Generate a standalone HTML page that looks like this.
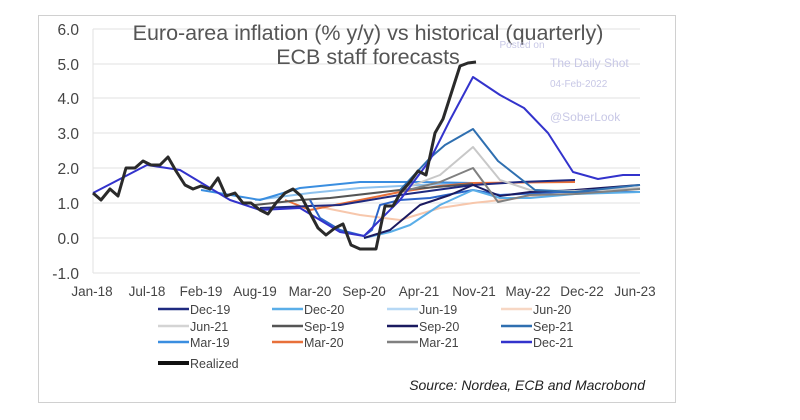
<!DOCTYPE html>
<html><head><meta charset="utf-8"><style>
body{margin:0;background:#fff;width:800px;height:415px;overflow:hidden;font-family:"Liberation Sans",Arial,sans-serif}
</style></head><body>
<svg width="800" height="415" viewBox="0 0 800 415" xmlns="http://www.w3.org/2000/svg" font-family="Liberation Sans, Arial, sans-serif">
<rect x="38.5" y="15.5" width="637" height="387" fill="#fff" stroke="#d0d0d0"/>
<g stroke="#e2e2e2" stroke-width="1">
<line x1="93" x2="640" y1="29" y2="29"/><line x1="93" x2="640" y1="64" y2="64"/><line x1="93" x2="640" y1="98" y2="98"/><line x1="93" x2="640" y1="133" y2="133"/><line x1="93" x2="640" y1="168" y2="168"/><line x1="93" x2="640" y1="203" y2="203"/><line x1="93" x2="640" y1="238" y2="238"/><line x1="93" x2="640" y1="273" y2="273"/>
<line x1="93" x2="93" y1="29" y2="273"/>
</g>
<g font-size="15.5" fill="#444" text-anchor="end">
<text x="79" y="35">6.0</text><text x="79" y="70">5.0</text><text x="79" y="104">4.0</text><text x="79" y="139">3.0</text><text x="79" y="174">2.0</text><text x="79" y="209">1.0</text><text x="79" y="244">0.0</text><text x="79" y="279">-1.0</text>
</g>
<g font-size="13.5" fill="#444" text-anchor="middle">
<text x="92" y="296">Jan-18</text><text x="147" y="296">Jul-18</text><text x="201" y="296">Feb-19</text><text x="255" y="296">Aug-19</text><text x="310" y="296">Mar-20</text><text x="364" y="296">Sep-20</text><text x="419" y="296">Apr-21</text><text x="474" y="296">Nov-21</text><text x="528" y="296">May-22</text><text x="582" y="296">Dec-22</text><text x="635" y="296">Jun-23</text>
</g>
<g font-size="21.5" fill="#555" text-anchor="middle">
<text x="368" y="40">Euro-area inflation (% y/y) vs historical (quarterly)</text>
<text x="368" y="64">ECB staff forecasts</text>
</g>
<g fill="#c8c8e6" font-size="10">
<text x="522" y="48" text-anchor="middle">Posted on</text>
<text x="550" y="67" font-size="12">The Daily Shot</text>
<text x="550" y="87" font-size="10">04-Feb-2022</text>
<text x="550" y="121" font-size="12">@SoberLook</text>
</g>
<g fill="none" stroke-linejoin="round" stroke-width="2">
<polyline stroke="#8ec2ee" points="255,200 310,193 360,188 420,185 473,183"/>
<polyline stroke="#3a8ee0" points="201,190 260,200 300,188 360,182 420,182 473,183"/>
<polyline stroke="#f7c7ac" points="310,205 360,215 400,220 440,208 473,203 520,198 560,195"/>
<polyline stroke="#e8703a" points="285,200 310,210 360,200 400,192 440,186 473,183 575,182"/>
<polyline stroke="#555" points="255,205 300,200 330,198 400,190 473,184"/>
<polyline stroke="#1f2a80" points="260,208 310,206 340,205 400,195 473,185 520,182 575,180"/>
<polyline stroke="#2c64c8" points="310,200 320,218 340,230 364,236 372,230 380,205 400,200 430,198 473,190 500,195 560,192 640,192"/>
<polyline stroke="#5aaee8" points="364,238 390,232 410,225 440,205 473,190 500,198 530,198 575,194 640,192"/>
<polyline stroke="#1a1a60" points="364,238 390,230 420,205 450,195 473,185 500,196 530,192 575,190 640,185"/>
<polyline stroke="#c8c8c8" points="400,190 440,175 473,147 500,180 530,190 575,191 640,188"/>
<polyline stroke="#808080" points="400,192 440,182 473,168 498,202 530,195 575,194 640,189"/>
<polyline stroke="#2f6fb0" points="400,190 430,158 445,145 473,129 498,161 535,190 575,192 640,185"/>
<polyline stroke="#3333cc" points="93,193 147,165 180,170 230,200 260,210 300,208 320,220 340,232 364,236 380,220 400,200 430,160 450,120 473,77 500,95 524,108 548,133 573,172 598,179 623,175 640,175"/>
<polyline stroke="#2a2a2a" stroke-width="3" points="93,193 101,200 110,189 118,196 126,168 135,168 143,161 151,165 160,165 168,157 176,171 185,185 193,189 201,186 210,189 218,178 226,196 235,193 243,203 251,203 260,210 268,214 276,203 285,193 293,189 301,196 310,213 318,228 326,235 335,228 343,224 351,245 360,249 368,249 376,249 385,206 393,206 401,192 410,182 418,171 426,175 435,133 443,119 451,94 460,66 468,63 476,62"/>
</g>
<g font-size="12.5" fill="#444">
<g stroke-width="2.5">
<line x1="158" x2="189" y1="309" y2="309" stroke="#1f2a80"/>
<line x1="272" x2="303" y1="309" y2="309" stroke="#5aaee8"/>
<line x1="387" x2="418" y1="309" y2="309" stroke="#b6d8f5"/>
<line x1="501" x2="532" y1="309" y2="309" stroke="#f7d7c4"/>
<line x1="158" x2="189" y1="326" y2="326" stroke="#d4d4d4"/>
<line x1="272" x2="303" y1="326" y2="326" stroke="#555"/>
<line x1="387" x2="418" y1="326" y2="326" stroke="#1a1a60"/>
<line x1="501" x2="532" y1="326" y2="326" stroke="#2f6fb0"/>
<line x1="158" x2="189" y1="342" y2="342" stroke="#3a8ee0"/>
<line x1="272" x2="303" y1="342" y2="342" stroke="#e8703a"/>
<line x1="387" x2="418" y1="342" y2="342" stroke="#808080"/>
<line x1="501" x2="532" y1="342" y2="342" stroke="#3333cc"/>
<line x1="158" x2="189" y1="363" y2="363" stroke="#111" stroke-width="4"/>
</g>
<text x="190" y="314">Dec-19</text><text x="304" y="314">Dec-20</text><text x="419" y="314">Jun-19</text><text x="533" y="314">Jun-20</text>
<text x="190" y="331">Jun-21</text><text x="304" y="331">Sep-19</text><text x="419" y="331">Sep-20</text><text x="533" y="331">Sep-21</text>
<text x="190" y="347">Mar-19</text><text x="304" y="347">Mar-20</text><text x="419" y="347">Mar-21</text><text x="533" y="347">Dec-21</text>
<text x="190" y="368">Realized</text>
</g>
<text x="645" y="390" text-anchor="end" font-size="14" font-style="italic" fill="#222">Source: Nordea, ECB and Macrobond</text>
</svg>
</body></html>
